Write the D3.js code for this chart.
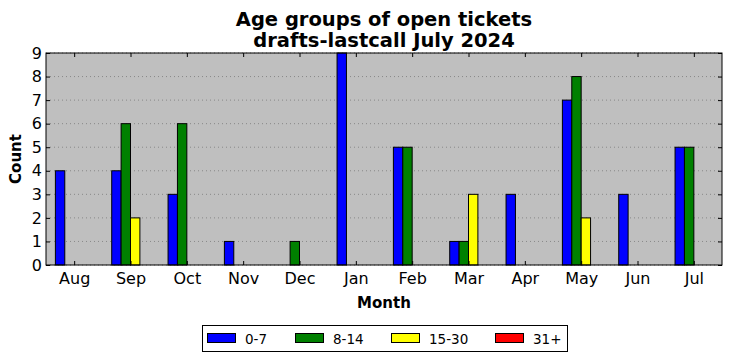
<!DOCTYPE html>
<html><head><meta charset="utf-8">
<script src="https://cdn.jsdelivr.net/npm/d3@7"></script>
<style>body{margin:0;background:#fff;} text{font-family:"DejaVu Sans",sans-serif;}</style>
</head><body><svg id="c" width="732" height="361"></svg>
<script>
const months = ["Aug","Sep","Oct","Nov","Dec","Jan","Feb","Mar","Apr","May","Jun","Jul"];
const seriesNames = ["0-7","8-14","15-30","31+"];
const colors = ["#0000ff","#008000","#ffff00","#ff0000"];
const s0_7   = [4,4,3,1,0,9,5,1,3,7,3,5];
const s8_14  = [0,6,6,0,1,0,5,1,0,8,0,5];
const s15_30 = [0,2,0,0,0,0,0,3,0,2,0,0];
const s31    = [0,0,0,0,0,0,0,0,0,0,0,0];
const yTicks = [0,1,2,3,4,5,6,7,8,9];
const series = [s0_7,s8_14,s15_30,s31];

const svg = d3.select("#c");
const L=46,R=722,T=53,B=265;
const x = d3.scaleLinear().domain([-0.5,11.5]).range([L,R]);
const y = d3.scaleLinear().domain([0,9]).range([B,T]);
const bw = (x(1)-x(0))/6;

svg.append("rect").attr("x",L).attr("y",T).attr("width",R-L).attr("height",B-T).attr("fill","#bfbfbf");
// grid
svg.append("g").selectAll("line").data(yTicks).join("line")
  .attr("x1",L).attr("x2",R).attr("y1",d=>y(d)).attr("y2",d=>y(d))
  .attr("stroke","#7a7a7a").attr("stroke-width",0.8).attr("stroke-dasharray","1,3");
// bars
series.forEach((s,i)=>{
  svg.append("g").selectAll("rect").data(s).join("rect")
    .attr("x",(d,j)=>x(j)-2*bw+i*bw).attr("width",bw)
    .attr("y",d=>y(d)).attr("height",d=>B-y(d))
    .attr("fill",colors[i]).attr("stroke","#000").attr("stroke-width",1);
});
// frame
svg.append("rect").attr("x",L).attr("y",T).attr("width",R-L).attr("height",B-T).attr("fill","none").attr("stroke","#000").attr("stroke-width",1);
// axes
const xa = d3.axisBottom(x).tickValues(d3.range(12)).tickFormat(i=>months[i]).tickSizeInner(-4).tickSizeOuter(0).tickPadding(8);
svg.append("g").attr("transform",`translate(0,${B})`).call(xa);
const xt = d3.axisTop(x).tickValues(d3.range(12)).tickFormat("").tickSizeInner(-4).tickSizeOuter(0);
svg.append("g").attr("transform",`translate(0,${T})`).call(xt);
const ya = d3.axisLeft(y).tickValues(yTicks).tickSizeInner(-4).tickSizeOuter(0).tickPadding(4);
svg.append("g").attr("transform",`translate(${L},0)`).call(ya);
const yr = d3.axisRight(y).tickValues(yTicks).tickFormat("").tickSizeInner(-4).tickSizeOuter(0);
svg.append("g").attr("transform",`translate(${R},0)`).call(yr);
svg.selectAll(".domain").remove();
svg.selectAll(".tick text").attr("font-size",16).attr("fill","#000").style("font-family","DejaVu Sans");
svg.selectAll(".tick line").attr("stroke","#000");

// titles
svg.append("text").attr("x",384).attr("y",26).attr("text-anchor","middle").attr("font-size",19.5).attr("font-weight","bold").text("Age groups of open tickets");
svg.append("text").attr("x",384).attr("y",47).attr("text-anchor","middle").attr("font-size",19.5).attr("font-weight","bold").text("drafts-lastcall July 2024");
svg.append("text").attr("x",384).attr("y",308).attr("text-anchor","middle").attr("font-size",15).attr("font-weight","bold").text("Month");
svg.append("text").attr("transform","translate(21,159) rotate(-90)").attr("text-anchor","middle").attr("font-size",15).attr("font-weight","bold").text("Count");

// legend
const lg = svg.append("g");
lg.append("rect").attr("x",202.5).attr("y",325.5).attr("width",365).attr("height",26).attr("fill","#fff").attr("stroke","#000");
const lx = [207,295,391,495];
seriesNames.forEach((n,i)=>{
  lg.append("rect").attr("x",lx[i]+0.5).attr("y",333.5).attr("width",28).attr("height",9).attr("fill",colors[i]).attr("stroke","#000");
  lg.append("text").attr("x",lx[i]+38).attr("y",343.5).attr("font-size",13.5).text(n);
});
</script></body></html>
